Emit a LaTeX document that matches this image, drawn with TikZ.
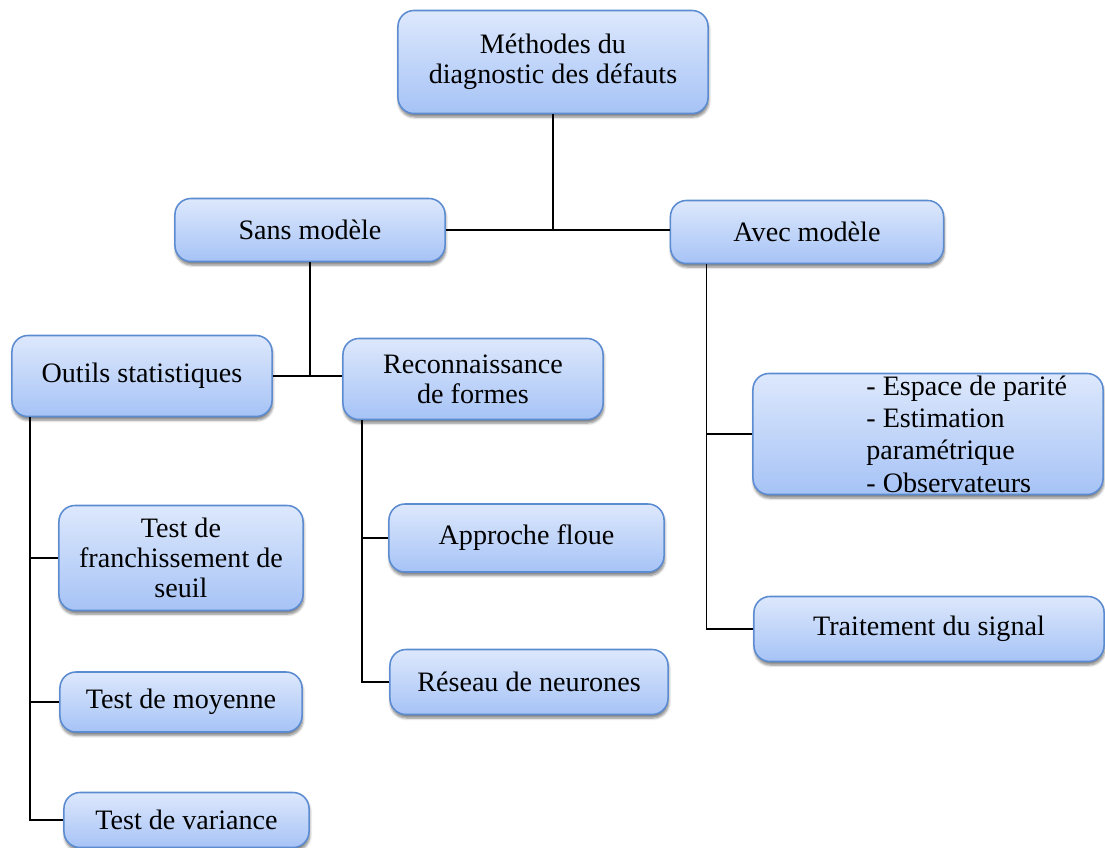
\documentclass[tikz,border=0pt]{standalone}
\usepackage{fontspec}
\setmainfont{Liberation Serif}
\usetikzlibrary{shadows.blur}

\definecolor{boxtop}{HTML}{DDE8FC}
\definecolor{boxbottom}{HTML}{A6C3F6}
\definecolor{boxline}{HTML}{5B8BD1}

\tikzset{
	methode/.style={draw=boxline, line width=1.1pt, rounded corners=0.4cm, top color=boxtop, bottom color=boxbottom, align=center,
		blur shadow={shadow xshift=0.5pt, shadow yshift=-2.5pt, shadow blur steps=6, shadow opacity=50}},
	lien/.style={line width=1.1pt}
}

\begin{document}
\begin{tikzpicture}[x=0.025cm, y=-0.025cm, font=\fontsize{20}{21.5}\selectfont]
			\useasboundingbox (0,0) rectangle (1105,848);
			
			\node[methode, minimum width=7.75cm, minimum height=2.575cm] (diag) at (553,62) {Méthodes du\\diagnostic des défauts};
			\node[methode, minimum width=6.75cm, minimum height=1.575cm] (sans) at (310,230) {Sans modèle};
			\node[methode, minimum width=6.825cm, minimum height=1.575cm] (avec) at (807,232) {Avec modèle};
			
			\node[methode, minimum width=6.5cm, minimum height=2.025cm] (outils) at (142,376) {Outils statistiques};
			\node[methode, minimum width=6.5cm, minimum height=2.025cm] (recon) at (473,379) {Reconnaissance\\de formes};
			\node[methode, minimum width=8.75cm, minimum height=3.025cm,
				label={[anchor=west, xshift=2.73cm, align=left, font=\fontsize{20}{23}\selectfont]west:- Espace de parité\\- Estimation\\paramétrique\\- Observateurs}] (espace) at (928,434) {};
			
			\node[methode, minimum width=6.1cm, minimum height=2.625cm] (franch) at (181,558) {Test de\\franchissement de\\seuil};
			\node[methode, minimum width=6.05cm, minimum height=1.5cm] (moyenne) at (181,702) {Test de moyenne};
			\node[methode, minimum width=6.125cm, minimum height=1.375cm] (variance) at (186.5,820) {Test de variance};
			
			\node[methode, minimum width=6.875cm, minimum height=1.7cm] (floue) at (526.5,538) {Approche floue};
			\node[methode, minimum width=6.95cm, minimum height=1.625cm] (reseau) at (529,682) {Réseau de neurones};
			\node[methode, minimum width=8.75cm, minimum height=1.625cm] (signal) at (929,629) {Traitement du signal};
			
			\coordinate (j0) at (diag.south |- sans.east);
			\draw[lien] (diag.south) -- (j0);
			\draw[lien] (sans.east) -- (sans.east -| avec.west);
			
			\coordinate (j1) at (sans.south |- outils.east);
			\draw[lien] (sans.south) -- (j1);
			\draw[lien] (outils.east) -- (outils.east -| recon.west);
			
			\coordinate (tronc1) at ([xshift=0.475cm]outils.south west);
			\draw[lien] (tronc1) |- (variance.west);
			\draw[lien] (tronc1 |- franch.west) -- (franch.west);
			\draw[lien] (tronc1 |- moyenne.west) -- (moyenne.west);
			
			\coordinate (tronc2) at ([xshift=0.5cm]recon.south west);
			\draw[lien] (tronc2) |- (reseau.west);
			\draw[lien] (tronc2 |- floue.west) -- (floue.west);
			
			\coordinate (tronc3) at ([xshift=0.925cm]avec.south west);
			\draw[lien] (tronc3) |- (signal.west);
			\draw[lien] (tronc3 |- espace.west) -- (espace.west);
		\end{tikzpicture}
\end{document}
